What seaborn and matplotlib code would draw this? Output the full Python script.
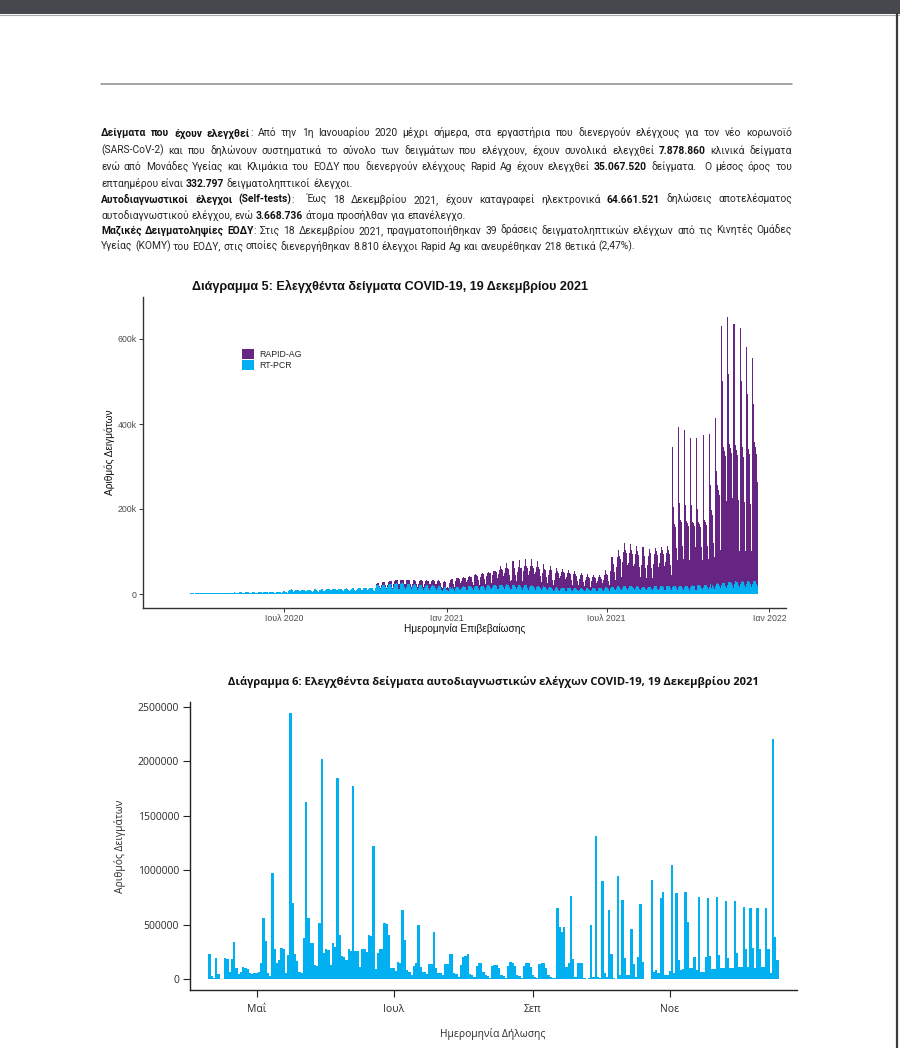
import numpy as np
import pandas as pd
import seaborn as sns
import matplotlib.pyplot as plt
import matplotlib.dates as mdates
from matplotlib.patches import Rectangle
from matplotlib.lines import Line2D

W, H = 900, 1048
PURPLE = "#662483"
BLUE = "#00B0F0"

# ---------------- Diagram 5: daily samples, thousands, rows are weeks (Mon..Sun) ----------------
start_5 = "2020-02-25"

pcr_2020 = [
    [0.1, 0.1, 0.2, 0.2, 0.3, 0.2],
    [0.3, 0.4, 0.5, 0.5, 0.6, 0.5, 0.4],
    [0.6, 0.8, 0.9, 1.0, 1.1, 0.9, 0.7],
    [1.0, 1.2, 1.3, 1.4, 1.5, 1.1, 0.9],
    [1.3, 1.5, 1.6, 1.7, 1.6, 1.3, 1.0],
    [1.6, 1.8, 2.0, 2.1, 2.0, 1.6, 1.2],
    [1.9, 2.2, 2.4, 2.5, 2.3, 1.8, 1.4],
    [2.0, 2.6, 2.8, 2.9, 2.6, 2.0, 1.5],
    [2.4, 3.0, 3.2, 3.1, 2.9, 2.2, 1.6],
    [2.5, 3.1, 3.3, 3.4, 3.0, 2.3, 1.7],
    [2.8, 3.4, 3.6, 3.5, 3.3, 2.5, 1.8],
    [3.0, 3.6, 3.8, 3.7, 3.4, 2.6, 1.9],
    [3.1, 3.8, 4.0, 3.9, 3.6, 2.7, 2.0],
    [3.3, 4.0, 4.2, 4.1, 3.8, 2.9, 2.1],
    [3.5, 4.3, 4.5, 4.4, 4.0, 3.0, 2.2],
    [3.8, 4.6, 4.8, 4.7, 4.3, 3.2, 2.4],
    [4.0, 4.9, 5.1, 5.0, 4.6, 3.4, 2.5],
    [4.3, 5.3, 5.5, 5.4, 5.0, 3.7, 2.7],
    [4.6, 5.6, 5.9, 5.8, 5.3, 4.0, 2.9],
    [6.5, 8.5, 10.5, 11.8, 10.0, 7.5, 5.5],
    [7.0, 8.8, 9.5, 9.8, 9.2, 7.0, 5.0],
    [7.2, 9.0, 9.6, 10.0, 9.4, 7.2, 5.2],
    [7.5, 9.4, 10.0, 10.3, 9.8, 7.5, 5.5],
    [8.0, 10.0, 10.6, 10.9, 10.2, 7.8, 5.7],
    [8.4, 10.5, 11.0, 11.4, 10.8, 8.2, 6.0],
    [8.8, 11.0, 11.6, 12.0, 11.2, 8.6, 6.2],
    [9.0, 11.4, 12.0, 12.4, 11.5, 8.8, 6.4],
    [9.3, 11.8, 12.5, 12.8, 12.0, 9.1, 6.6],
    [9.6, 12.2, 12.9, 13.2, 12.4, 9.4, 6.8],
    [9.8, 12.5, 13.2, 13.6, 12.8, 9.6, 7.0],
    [10.0, 12.8, 13.6, 14.0, 13.2, 9.9, 7.2],
    [10.3, 13.2, 14.0, 14.4, 13.5, 10.2, 7.4],
    [10.6, 13.5, 14.3, 14.8, 13.9, 10.5, 7.6],
    [11.0, 14.0, 20.5, 21.5, 21.0, 15.5, 11.0],
    [16.0, 21.0, 22.0, 22.5, 21.5, 16.0, 11.5],
    [16.5, 22.0, 23.0, 23.5, 22.5, 16.5, 12.0],
    [17.0, 23.0, 24.5, 25.0, 24.0, 17.5, 12.5],
    [17.0, 23.5, 25.0, 25.0, 24.0, 17.0, 12.0],
    [16.5, 22.5, 24.0, 24.0, 23.0, 16.5, 11.5],
    [15.5, 21.5, 23.0, 22.5, 21.5, 15.5, 10.5],
    [15.0, 20.5, 22.0, 21.5, 20.5, 15.0, 10.0],
    [14.5, 20.0, 21.0, 20.5, 19.5, 14.0, 9.5],
    [14.0, 19.5, 20.5, 20.0, 19.0, 13.5, 9.0],
    [13.5, 19.0, 20.0, 19.0, 17.0, 10.0, 8.0],
    [12.0, 17.0, 18.0, 17.0, 9.0, 10.0, 8.0],
]

pcr_2021 = [
    [13.0, 15.5, 12.0, 16.0, 15.5, 11.5, 8.0],
    [13.5, 16.5, 17.0, 16.5, 16.0, 12.0, 8.5],
    [14.0, 17.5, 18.0, 17.5, 17.0, 12.5, 9.0],
    [14.5, 18.0, 18.5, 18.0, 17.5, 13.0, 9.5],
    [15.5, 19.0, 19.5, 19.0, 18.5, 14.0, 10.0],
    [16.0, 19.5, 20.0, 19.5, 19.0, 14.5, 10.5],
    [16.5, 20.5, 21.0, 20.5, 19.5, 15.0, 11.0],
    [17.0, 21.0, 21.5, 21.0, 20.0, 15.5, 11.0],
    [17.5, 21.5, 22.0, 21.5, 20.5, 15.5, 11.5],
    [18.0, 22.0, 22.5, 22.0, 21.0, 16.0, 11.5],
    [12.0, 22.0, 22.5, 22.0, 21.0, 15.5, 11.0],
    [17.5, 21.5, 22.0, 21.0, 20.0, 15.0, 10.5],
    [17.0, 21.0, 21.5, 20.5, 19.5, 14.5, 10.5],
    [16.5, 20.0, 20.5, 19.5, 18.5, 14.0, 10.0],
    [15.5, 19.0, 19.5, 18.5, 17.5, 13.0, 9.5],
    [14.5, 18.0, 18.5, 17.5, 16.5, 12.5, 9.0],
    [13.5, 16.5, 17.0, 16.0, 15.0, 11.0, 8.0],
    [10.0, 14.0, 15.5, 15.0, 14.0, 10.5, 7.5],
    [12.0, 14.5, 15.0, 14.5, 13.5, 10.0, 7.5],
    [11.5, 14.0, 14.5, 14.0, 13.0, 9.5, 7.0],
    [11.0, 13.5, 14.0, 13.5, 12.5, 9.5, 7.0],
    [10.5, 13.0, 13.5, 13.0, 12.0, 9.0, 6.5],
    [10.5, 13.0, 13.5, 13.0, 12.0, 9.0, 6.5],
    [10.5, 13.5, 14.0, 13.5, 12.5, 9.5, 7.0],
    [11.0, 14.0, 14.5, 14.0, 13.0, 10.0, 7.5],
    [12.0, 15.5, 16.0, 15.5, 14.5, 11.0, 8.0],
    [13.0, 17.0, 17.5, 17.0, 16.0, 12.0, 8.5],
    [14.0, 18.0, 18.5, 18.0, 17.0, 12.5, 9.0],
    [14.5, 18.5, 19.0, 18.5, 17.5, 13.0, 9.5],
    [14.5, 18.5, 19.0, 18.5, 17.5, 13.0, 9.5],
    [14.0, 18.0, 18.5, 18.0, 17.0, 12.5, 9.0],
    [13.5, 17.5, 18.0, 17.5, 16.5, 12.0, 8.5],
    [13.5, 17.5, 18.0, 17.5, 16.5, 12.0, 8.5],
    [14.0, 18.0, 18.5, 18.0, 17.0, 12.5, 9.0],
    [14.5, 18.5, 19.0, 18.5, 17.5, 13.0, 9.5],
    [15.0, 19.0, 19.5, 19.0, 18.0, 13.5, 10.0],
    [15.5, 19.5, 20.0, 19.5, 18.5, 14.0, 10.0],
    [15.5, 19.5, 20.0, 19.5, 18.5, 14.0, 10.0],
    [15.5, 19.5, 20.0, 19.5, 18.5, 14.0, 10.0],
    [16.0, 20.0, 20.5, 20.0, 19.0, 14.5, 10.5],
    [16.5, 20.5, 21.0, 20.5, 19.5, 15.0, 11.0],
    [17.0, 21.5, 22.0, 21.5, 20.5, 15.5, 11.5],
    [17.5, 22.5, 23.0, 14.0, 21.0, 16.0, 12.0],
    [19.0, 24.5, 25.5, 25.0, 24.0, 18.0, 13.0],
    [21.0, 26.0, 27.0, 26.5, 25.5, 19.5, 14.0],
    [22.0, 27.5, 28.5, 28.0, 27.0, 20.5, 15.0],
    [23.0, 28.5, 29.5, 29.0, 28.0, 21.5, 15.5],
    [23.5, 29.0, 30.5, 30.0, 28.5, 22.0, 16.0],
    [24.0, 29.5, 31.0, 30.5, 29.0, 22.5, 16.5],
    [24.0, 30.0, 31.5, 30.5, 29.5, 23.0, 18.0],
]

# rapid antigen tests start in the week of 12 Oct 2020 (nothing before that)
rapid_before = 6 + 32 * 7

rapid_2020 = [
    [0, 0, 3, 4, 4, 3, 2],
    [4, 6, 6, 6, 6, 4, 3],
    [5, 7, 7, 7, 7, 5, 3],
    [6, 8, 8, 8, 8, 6, 4],
    [7, 9, 9, 9, 9, 7, 5],
    [8, 10, 10, 10, 10, 8, 5],
    [8, 10, 10, 10, 10, 8, 6],
    [9, 11, 11, 11, 11, 9, 6],
    [9, 11, 12, 11, 11, 9, 6],
    [10, 12, 12, 12, 12, 10, 7],
    [10, 12, 12, 11, 9, 6, 5],
    [9, 11, 12, 11, 5, 6, 5],
]

rapid_2021 = [
    [14, 18, 12, 19, 18, 13, 8],
    [16, 20, 21, 20, 19, 14, 9],
    [17, 21, 22, 21, 20, 15, 10],
    [19, 23, 24, 23, 22, 16, 11],
    [21, 26, 27, 26, 25, 18, 12],
    [23, 28, 29, 28, 27, 20, 13],
    [25, 30, 31, 30, 29, 22, 14],
    [27, 32, 33, 32, 31, 23, 15],
    [30, 36, 45, 37, 35, 26, 17],
    [32, 38, 50, 40, 38, 28, 18],
    [20, 40, 55, 42, 40, 30, 19],
    [34, 42, 58, 30, 41, 30, 19],
    [36, 44, 60, 45, 42, 31, 20],
    [37, 45, 62, 46, 43, 32, 20],
    [36, 44, 58, 45, 42, 30, 19],
    [34, 42, 52, 42, 40, 28, 18],
    [32, 40, 48, 40, 36, 22, 14],
    [22, 36, 46, 38, 36, 26, 16],
    [30, 37, 45, 37, 35, 25, 15],
    [28, 35, 43, 35, 33, 23, 14],
    [27, 33, 40, 33, 31, 22, 13],
    [25, 31, 37, 31, 29, 20, 12],
    [23, 28, 34, 28, 26, 18, 11],
    [21, 26, 31, 26, 24, 17, 10],
    [20, 25, 30, 25, 23, 16, 10],
    [22, 30, 40, 32, 30, 20, 12],
    [40, 55, 70, 60, 55, 40, 25],
    [50, 68, 85, 72, 66, 48, 30],
    [60, 80, 100, 85, 78, 55, 34],
    [58, 78, 98, 84, 76, 54, 33],
    [56, 75, 95, 82, 74, 52, 32],
    [54, 72, 92, 80, 72, 50, 30],
    [55, 73, 88, 80, 72, 50, 30],
    [56, 75, 90, 82, 74, 52, 32],
    [58, 77, 92, 84, 76, 53, 33],
    [60, 78, 94, 85, 77, 54, 34],
    [330, 185, 150, 145, 140, 95, 70],
    [378, 195, 155, 150, 145, 100, 72],
    [370, 190, 152, 148, 142, 98, 70],
    [350, 190, 150, 146, 140, 96, 70],
    [350, 180, 148, 144, 138, 95, 68],
    [358, 190, 152, 148, 142, 98, 70],
    [360, 235, 175, 120, 165, 105, 75],
    [395, 265, 230, 220, 210, 140, 90],
    [610, 475, 320, 310, 300, 200, 85],
    [630, 490, 325, 315, 305, 205, 85],
    [612, 470, 320, 310, 300, 200, 85],
    [603, 472, 315, 305, 295, 195, 85],
    [558, 440, 310, 300, 290, 190, 85],
    [532, 418, 325, 315, 300, 240, 205],
]

ticks_5 = ["2020-07-01", "2021-01-01", "2021-07-01", "2022-01-01"]
ticklabels_5 = ["Ιουλ 2020", "Ιαν 2021", "Ιουλ 2021", "Ιαν 2022"]
yticks_5 = [0, 200000, 400000, 600000]
yticklabels_5 = ["0", "200k", "400k", "600k"]

# ---------------- Diagram 6: self-tests per declaration day, thousands ----------------
start_6 = "2021-04-10"
selftests_k = [
    232, 30, 10, 195, 49, 0, 0, 198, 190, 70,
    183, 342, 107, 46, 64, 110, 108, 92, 61, 46,
    55, 61, 70, 150, 559, 354, 55, 30, 974, 281,
    153, 177, 284, 280, 55, 223, 2443, 696, 232, 165,
    70, 60, 381, 1624, 559, 333, 330, 131, 120, 513,
    2024, 238, 275, 270, 131, 330, 300, 1850, 403, 214,
    201, 177, 275, 260, 1774, 262, 262, 116, 281, 280,
    253, 406, 400, 1227, 98, 238, 275, 275, 519, 510,
    403, 107, 104, 76, 156, 150, 635, 360, 85, 70,
    40, 120, 147, 498, 110, 70, 65, 49, 137, 140,
    437, 100, 61, 55, 37, 137, 137, 229, 235, 55,
    46, 24, 131, 201, 210, 229, 49, 37, 18, 125,
    153, 150, 70, 40, 30, 15, 125, 131, 128, 107,
    40, 30, 15, 122, 156, 150, 125, 35, 28, 15,
    125, 147, 145, 116, 35, 25, 15, 137, 147, 145,
    100, 35, 25, 15, 12, 650, 482, 430, 482, 116,
    147, 763, 186, 25, 153, 153, 147, 10, 5, 10,
    498, 20, 1313, 20, 15, 900, 61, 25, 635, 232,
    10, 0, 950, 40, 727, 192, 37, 40, 458, 140,
    25, 201, 690, 156, 0, 0, 0, 907, 64, 85,
    60, 748, 803, 37, 37, 79, 1047, 60, 788, 177,
    85, 92, 797, 528, 100, 100, 208, 85, 757, 64,
    64, 208, 748, 214, 92, 92, 757, 223, 100, 100,
    717, 192, 100, 100, 720, 238, 116, 116, 665, 275,
    110, 656, 290, 100, 650, 275, 116, 116, 650, 275,
    61, 2204, 385, 177,
]
ticks_6 = ["2021-05-01", "2021-07-01", "2021-09-01", "2021-11-01"]
ticklabels_6 = ["Μαΐ", "Ιουλ", "Σεπ", "Νοε"]
yticks_6 = [0, 500000, 1000000, 1500000, 2000000, 2500000]

# ---------------- page text ----------------
paragraph = [
    ("**Δείγματα που έχουν ελεγχθεί**: Από την 1η Ιανουαρίου 2020 μέχρι σήμερα, στα εργαστήρια που διενεργούν ελέγχους για τον νέο κορωνοϊό", True),
    ("(SARS-CoV-2) και που δηλώνουν συστηματικά το σύνολο των δειγμάτων που ελέγχουν, έχουν συνολικά ελεγχθεί **7.878.860** κλινικά δείγματα", True),
    ("ενώ από Μονάδες Υγείας και Κλιμάκια του ΕΟΔΥ που διενεργούν ελέγχους Rapid Ag έχουν ελεγχθεί **35.067.520** δείγματα.  Ο μέσος όρος του", True),
    ("επταημέρου είναι **332.797** δειγματοληπτικοί έλεγχοι.", False),
    ("**Αυτοδιαγνωστικοί έλεγχοι (Self-tests)**:  Έως 18 Δεκεμβρίου 2021, έχουν καταγραφεί ηλεκτρονικά **64.661.521** δηλώσεις αποτελέσματος", True),
    ("αυτοδιαγνωστικού ελέγχου, ενώ **3.668.736** άτομα προσήλθαν για επανέλεγχο.", False),
    ("**Μαζικές Δειγματοληψίες ΕΟΔΥ**: Στις 18 Δεκεμβρίου 2021, πραγματοποιήθηκαν 39 δράσεις δειγματοληπτικών ελέγχων από τις Κινητές Ομάδες", True),
    ("Υγείας (ΚΟΜΥ) του ΕΟΔΥ, στις οποίες διενεργήθηκαν 8.810 έλεγχοι Rapid Ag και ανευρέθηκαν 218 θετικά (2,47%).", False),
]
# baselines of the text lines, pixels from the top
paragraph_y = [136.5, 153.5, 170.5, 187, 203, 218.5, 234, 249.5]
TEXT_LEFT, TEXT_RIGHT, LAST_LINE_RIGHT = 101, 792, 692

TITLE_5 = "Διάγραμμα 5: Ελεγχθέντα δείγματα COVID-19, 19 Δεκεμβρίου 2021"
TITLE_6 = "Διάγραμμα 6: Ελεγχθέντα δείγματα αυτοδιαγνωστικών ελέγχων COVID-19, 19 Δεκεμβρίου 2021"


def fx(x):
    return x / W


def fy(y):
    return 1 - y / H


def axes_rect(left, top, right, bottom):
    return [fx(left), fy(bottom), (right - left) / W, (bottom - top) / H]


def split_line(line):
    """Split a line into words; each word is a list of (text, bold) pieces."""
    bold = False
    words = []
    for token in line.split(" "):
        parts = []
        for k, piece in enumerate(token.split("**")):
            if k > 0:
                bold = not bold
            if piece:
                parts.append((piece, bold))
        words.append(parts)
    return words


def text_width(fig, renderer, s, size, family, bold):
    t = fig.text(0, 0, s, fontsize=size, family=family, fontweight="bold" if bold else "normal")
    w = t.get_window_extent(renderer).width
    t.remove()
    return w


def natural_width(fig, renderer, line, size, family):
    words = split_line(line)
    sp = text_width(fig, renderer, "a a", size, family, False) - text_width(fig, renderer, "aa", size, family, False)
    total = sum(text_width(fig, renderer, p, size, family, b) for parts in words for p, b in parts)
    return total + sp * (len(words) - 1)


def draw_justified(fig, lines, ys, x0, x1, size, family):
    """Draw lines of text with **bold** parts, justified between x0 and x1 (pixels)."""
    renderer = fig.canvas.get_renderer()
    w_sp = text_width(fig, renderer, "a a", size, family, False) - text_width(fig, renderer, "aa", size, family, False)
    for (line, justify), y in zip(lines, ys):
        words = []
        for parts in split_line(line):
            placed = []
            for piece, bold in parts:
                t = fig.text(0, fy(y), piece, fontsize=size, family=family,
                             fontweight="bold" if bold else "normal",
                             color="#111111" if bold else "#262626", va="baseline")
                placed.append((t, t.get_window_extent(renderer).width))
            words.append(placed)
        total = sum(w for parts in words for _, w in parts)
        gap = (x1 - x0 - total) / (len(words) - 1) if justify else w_sp
        x = x0
        for parts in words:
            for t, w in parts:
                t.set_x(fx(x))
                x += w
            x += gap


sns.set_theme(style="ticks")
plt.rcParams["font.family"] = ["Liberation Sans", "DejaVu Sans"]

fig = plt.figure(figsize=(W / 100, H / 100), dpi=100)
fig.patch.set_facecolor("white")

# page decorations
fig.add_artist(Rectangle((0, fy(14)), 1, 14 / H, transform=fig.transFigure,
                         facecolor="#45494e", edgecolor="none"))
fig.add_artist(Line2D([0, 1], [fy(14.5)] * 2, transform=fig.transFigure, color="#a8a8a8", lw=0.8))
fig.add_artist(Line2D([fx(897)] * 2, [0, fy(14)], transform=fig.transFigure, color="#3a3a3a", lw=1.6))
fig.add_artist(Line2D([fx(101), fx(792)], [fy(84)] * 2, transform=fig.transFigure, color="#8c8c8c", lw=1.1))

# pick the body size so the last line ends where it does on the page and no justified line overflows
body_font = ["Roboto", "Liberation Sans"]
rend = fig.canvas.get_renderer()
probe_size = 8.0
size_last = probe_size * (LAST_LINE_RIGHT - TEXT_LEFT) / natural_width(fig, rend, paragraph[-1][0], probe_size, body_font)
widest = max(natural_width(fig, rend, line, probe_size, body_font) for line, just in paragraph if just)
size_fit = probe_size * (TEXT_RIGHT - TEXT_LEFT) * 0.985 / widest
draw_justified(fig, paragraph, paragraph_y, TEXT_LEFT, TEXT_RIGHT, min(size_last, size_fit), body_font)

# ---------------- chart 5 ----------------
pcr = [v for row in pcr_2020 + pcr_2021 for v in row]
rapid = [0] * rapid_before + [v for row in rapid_2020 + rapid_2021 for v in row]
days5 = mdates.date2num(pd.date_range(start_5, periods=len(pcr), freq="D"))
df5 = pd.DataFrame({
    "day": np.concatenate([days5, days5]),
    "value": np.array(rapid + pcr, dtype=float) * 1000,
    "type": ["RAPID-AG"] * len(rapid) + ["RT-PCR"] * len(pcr),
})

ax5 = fig.add_axes(axes_rect(143, 297, 786, 608))
sns.histplot(data=df5, x="day", weights="value", hue="type", hue_order=["RAPID-AG", "RT-PCR"],
             multiple="stack", discrete=True, shrink=1.25, alpha=1, linewidth=0,
             palette={"RAPID-AG": PURPLE, "RT-PCR": BLUE}, ax=ax5)
jan21 = mdates.date2num(pd.Timestamp("2021-01-01"))
ax5.set_xlim(jan21 - (446.7 - 143) / 0.884, jan21 + (786 - 446.7) / 0.884)
ax5.set_ylim(-(608 - 594) / 0.425 * 1000, (594 - 297) / 0.425 * 1000)
ax5.set_xticks(mdates.date2num(pd.to_datetime(ticks_5)))
ax5.set_xticklabels(ticklabels_5)
ax5.set_yticks(yticks_5)
ax5.set_yticklabels(yticklabels_5)
ax5.set_xlabel("")
ax5.set_ylabel("")
ax5.tick_params(axis="both", length=3, width=0.7, color="#333333", labelsize=6.3,
                labelcolor="#4d4d4d", pad=1.5)
sns.despine(ax=ax5)
for side in ("left", "bottom"):
    ax5.spines[side].set_linewidth(1.0)
    ax5.spines[side].set_color("#333333")
sns.move_legend(ax5, "upper left", bbox_to_anchor=((242 - 143) / 643, (608 - 349) / 311),
                title=None, frameon=False, fontsize=6.3, borderpad=0, borderaxespad=0,
                handlelength=1.35, handleheight=1.45, labelspacing=0.05, handletextpad=0.6)

fig.text(fx(390), fy(286), TITLE_5, ha="center", va="center", fontsize=9.1, fontweight="bold",
         color="#111111")
fig.text(fx(465), fy(629), "Ημερομηνία Επιβεβαίωσης", ha="center", va="center", fontsize=7.3,
         color="#111111")
fig.text(fx(110), fy(452), "Αριθμός Δειγμάτων", ha="center", va="center", rotation=90,
         fontsize=7.3, color="#111111")

# ---------------- chart 6 ----------------
f6 = ["Open Sans", "DejaVu Sans"]
days6 = mdates.date2num(pd.date_range(start_6, periods=len(selftests_k), freq="D"))
ax6 = fig.add_axes(axes_rect(189.5, 702, 797, 990))
sns.histplot(x=days6, weights=np.array(selftests_k, dtype=float) * 1000, discrete=True, shrink=1.05,
             color=BLUE, alpha=1, linewidth=0, ax=ax6)
may1 = mdates.date2num(pd.Timestamp("2021-05-01"))
ax6.set_xlim(may1 - (256.7 - 189.5) / 2.245, may1 + (797 - 256.7) / 2.245)
ax6.set_ylim(-(990 - 979.3) / 109.0 * 1e6, (979.3 - 702) / 109.0 * 1e6)
ax6.set_xticks(mdates.date2num(pd.to_datetime(ticks_6)))
ax6.set_xticklabels(ticklabels_6, family=f6)
ax6.set_yticks(yticks_6)
ax6.set_yticklabels([str(v) for v in yticks_6], family=f6)
ax6.set_xlabel("")
ax6.set_ylabel("")
ax6.tick_params(axis="both", length=5, width=0.8, color="#222222", labelsize=7.5,
                labelcolor="#2b2b2b", pad=2.5)
ax6.tick_params(axis="x", pad=5)
sns.despine(ax=ax6)
for side in ("left", "bottom"):
    ax6.spines[side].set_linewidth(1.0)
    ax6.spines[side].set_color("#222222")

fig.text(fx(493), fy(682), TITLE_6, ha="center", va="center", fontsize=8.05, fontweight="bold",
         color="#111111", family=f6)
fig.text(fx(493), fy(1034), "Ημερομηνία Δήλωσης", ha="center", va="center", fontsize=7.4,
         color="#2b2b2b", family=f6)
fig.text(fx(119.5), fy(846), "Αριθμός Δειγμάτων", ha="center", va="center", rotation=90,
         fontsize=7.4, color="#2b2b2b", family=f6)

fig.savefig("out.png", dpi=100, facecolor="white")
